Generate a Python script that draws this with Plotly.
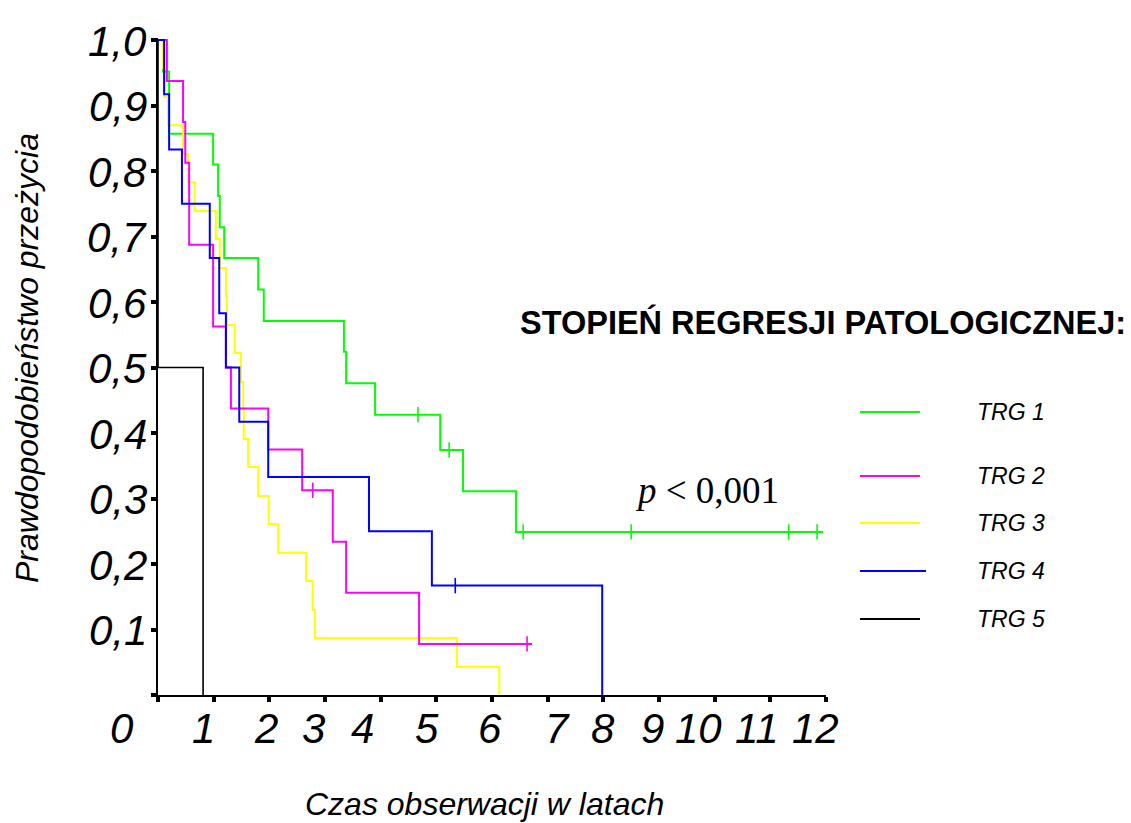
import numpy as np
import plotly.graph_objects as go

# ---------------- data ----------------
x_tick_vals = list(range(0, 13))
x_tick_text = [str(v) for v in x_tick_vals]
y_tick_vals = [0.1, 0.2, 0.3, 0.4, 0.5, 0.6, 0.7, 0.8, 0.9, 1.0]
y_tick_text = ["0,1", "0,2", "0,3", "0,4", "0,5", "0,6", "0,7", "0,8", "0,9", "1,0"]

series_names = ["TRG 1", "TRG 2", "TRG 3", "TRG 4", "TRG 5"]

trg1_times = [0.09, 0.20, 0.99, 1.08, 1.11, 1.19, 1.80, 1.90, 3.34, 3.38, 3.90, 5.07, 5.48, 6.43]
trg1_surv = [0.952, 0.857, 0.810, 0.762, 0.714, 0.667, 0.619, 0.571, 0.524, 0.476, 0.428, 0.374, 0.311, 0.249]
trg1_cens = [4.67, 5.23, 6.56, 8.50, 11.33, 11.84]
trg1_end = 11.95

trg2_times = [0.16, 0.45, 0.49, 0.56, 0.99, 1.22, 1.31, 1.98, 2.59, 3.14, 3.38, 4.69]
trg2_surv = [0.9375, 0.875, 0.8125, 0.6875, 0.5625, 0.5, 0.4375, 0.375, 0.3125, 0.234, 0.156, 0.078]
trg2_cens = [2.78, 6.63]
trg2_end = 6.72

trg3_times = [0.09, 0.11, 0.18, 0.45, 0.54, 0.66, 1.04, 1.11, 1.22, 1.24, 1.38, 1.49, 1.53,
              1.54, 1.62, 1.80, 1.99, 2.16, 2.66, 2.78, 2.82, 5.37, 6.13]
trg3_surv = [0.957, 0.913, 0.870, 0.826, 0.783, 0.739, 0.696, 0.652, 0.609, 0.565, 0.522, 0.478, 0.435,
             0.391, 0.348, 0.304, 0.261, 0.217, 0.174, 0.130, 0.087, 0.043, 0.0]
trg3_cens = []
trg3_end = 6.13

trg4_times = [0.11, 0.20, 0.43, 0.93, 1.10, 1.22, 1.46, 1.98, 3.79, 4.92, 7.98]
trg4_surv = [0.917, 0.833, 0.75, 0.667, 0.583, 0.5, 0.417, 0.333, 0.25, 0.167, 0.0]
trg4_cens = [5.34]
trg4_end = 7.98

trg5_times = [0.0, 0.81]
trg5_surv = [0.5, 0.0]
trg5_cens = []
trg5_end = 0.81

p_text = "<i>p</i> < 0,001"
legend_title = "STOPIEŃ REGRESJI PATOLOGICZNEJ:"
x_title = "Czas obserwacji w latach"
y_title = "Prawdopodobieństwo przeżycia"

# ---------------- style / layout ----------------
W, H = 1131, 823
ML, MR, MT, MB = 158, 305, 38, 128
PW = W - ML - MR
PH = H - MT - MB
XMAX = 12.0
YMAX = 1.0 + 2 / 655

colors = ["#00FF00", "#FF00FF", "#FFFF00", "#0000FF", "#000000"]
widths = [2, 2, 2, 2, 1.6]
SANS = "Arial, Liberation Sans, sans-serif"
SERIF = "Times New Roman, Liberation Serif, serif"


def px_to_paper_x(px):
    return (px - ML) / PW


def px_to_paper_y(py):
    return (H - MB - py) / PH


# x tick labels are drawn (as in the original) slightly off their ticks
x_label_px = [122, 203, 266, 313, 362, 427, 490, 557, 603, 652, 698, 757, 815]

fig = go.Figure()

series = [
    (trg1_times, trg1_surv, trg1_cens, trg1_end),
    (trg2_times, trg2_surv, trg2_cens, trg2_end),
    (trg3_times, trg3_surv, trg3_cens, trg3_end),
    (trg4_times, trg4_surv, trg4_cens, trg4_end),
    (trg5_times, trg5_surv, trg5_cens, trg5_end),
]

draw_order = [4, 0, 2, 1, 3]
for i in draw_order:
    times, surv, cens, end = series[i]
    xs = [0.0] + list(times)
    ys = [1.0] + list(surv)
    if end > xs[-1]:
        xs.append(end)
        ys.append(ys[-1])
    fig.add_trace(go.Scatter(x=xs, y=ys, mode="lines", line=dict(color=colors[i], width=widths[i], shape="hv"),
                             name=series_names[i], showlegend=False, hoverinfo="skip"))
    if cens:
        t_arr = np.array(times)
        s_arr = np.array(surv)
        cy = []
        for c in cens:
            k = np.searchsorted(t_arr, c, side="right")
            cy.append(1.0 if k == 0 else float(s_arr[k - 1]))
        fig.add_trace(go.Scatter(x=cens, y=cy, mode="markers",
                                 marker=dict(symbol="line-ns", size=11, line=dict(color=colors[i], width=1.6)),
                                 showlegend=False, hoverinfo="skip", cliponaxis=False))

annotations = []
# y tick labels
for v, t in zip(y_tick_vals, y_tick_text):
    annotations.append(dict(x=px_to_paper_x(149), xref="paper", y=v, yref="y", text=t, showarrow=False,
                            xanchor="right", yanchor="middle", yshift=-1,
                            font=dict(family=SANS, size=42, color="black", style="italic")))
# x tick labels
for px, t in zip(x_label_px, x_tick_text):
    annotations.append(dict(x=px_to_paper_x(px), xref="paper", y=0, yref="paper", text=t, showarrow=False,
                            xanchor="center", yanchor="middle", yshift=-33,
                            font=dict(family=SANS, size=42, color="black", style="italic")))
# axis titles
annotations.append(dict(x=px_to_paper_x(484), xref="paper", y=px_to_paper_y(804), yref="paper", text=x_title,
                        showarrow=False, xanchor="center", yanchor="middle",
                        font=dict(family=SANS, size=32, color="black", style="italic")))
annotations.append(dict(x=px_to_paper_x(27), xref="paper", y=px_to_paper_y(358), yref="paper", text=y_title,
                        showarrow=False, xanchor="center", yanchor="middle", textangle=-90,
                        font=dict(family=SANS, size=32, color="black", style="italic")))
# legend title
annotations.append(dict(x=px_to_paper_x(1128), xref="paper", y=px_to_paper_y(322), yref="paper",
                        text="<b>" + legend_title + "</b>",
                        showarrow=False, xanchor="right", yanchor="middle",
                        font=dict(family=SANS, size=32.5, color="black")))
# p value
annotations.append(dict(x=px_to_paper_x(707), xref="paper", y=px_to_paper_y(490), yref="paper", text=p_text,
                        showarrow=False, xanchor="center", yanchor="middle",
                        font=dict(family=SERIF, size=37, color="black")))

# custom legend
legend_y_px = [412, 476, 523, 571, 619]
legend_x1_px = [920, 920, 920, 926, 920]
shapes = []
for i in range(5):
    yp = px_to_paper_y(legend_y_px[i])
    shapes.append(dict(type="line", xref="paper", yref="paper", x0=px_to_paper_x(860),
                       x1=px_to_paper_x(legend_x1_px[i]),
                       y0=yp, y1=yp, line=dict(color=colors[i], width=2)))
    annotations.append(dict(x=px_to_paper_x(975), xref="paper", y=yp, yref="paper", text=series_names[i],
                            showarrow=False, xanchor="left", yanchor="middle",
                            font=dict(family=SANS, size=23, color="black", style="italic")))

fig.update_layout(
    width=W, height=H,
    margin=dict(l=ML, r=MR, t=MT, b=MB, pad=0),
    paper_bgcolor="white", plot_bgcolor="white",
    showlegend=False,
    annotations=annotations,
    shapes=shapes,
    xaxis=dict(range=[0, XMAX], tickvals=x_tick_vals, showticklabels=False, ticks="outside", ticklen=5, tickwidth=4,
               tickcolor="black", showline=True, linecolor="black", linewidth=2, showgrid=False, zeroline=False,
               fixedrange=True),
    yaxis=dict(range=[0, YMAX], tickvals=[0.0] + y_tick_vals, showticklabels=False, ticks="outside", ticklen=5,
               tickwidth=4, tickcolor="black", showline=True, linecolor="black", linewidth=2, showgrid=False,
               zeroline=False, fixedrange=True),
)

fig.write_html("out.html", config={"displayModeBar": False},
               post_script="document.body.style.margin='0';document.body.style.overflow='hidden';")
